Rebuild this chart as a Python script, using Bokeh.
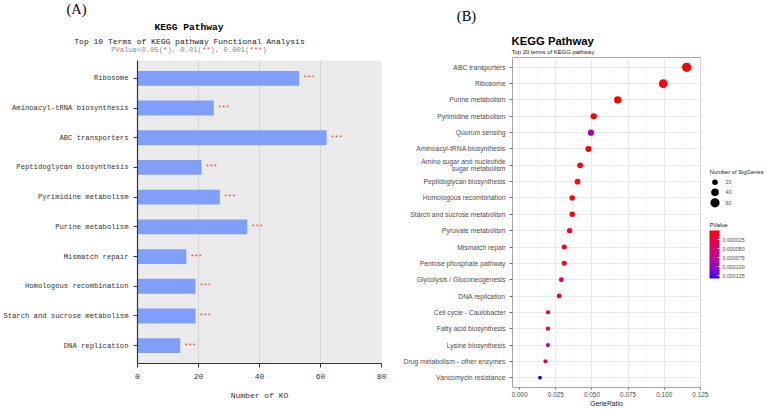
import math

from bokeh.core.properties import value
from bokeh.embed import file_html
from bokeh.layouts import column, row
from bokeh.models import (AllLabels, ColorBar, ColumnDataSource, CustomJSTickFormatter,
                          FixedTicker, LinearColorMapper, NumeralTickFormatter, Range1d,
                          SingleIntervalTicker)
from bokeh.plotting import figure
from bokeh.resources import INLINE

# ---------------- Panel A: top 10 KEGG terms (number of KO) ----------------
kegg10_terms = [
    "Ribosome", "Aminoacyl-tRNA biosynthesis", "ABC transporters",
    "Peptidoglycan biosynthesis", "Pyrimidine metabolism", "Purine metabolism",
    "Mismatch repair", "Homologous recombination", "Starch and sucrose metabolism",
    "DNA replication",
]
kegg10_ko = [53, 25, 62, 21, 27, 36, 16, 19, 19, 14]
kegg10_stars = ["***", "***", "***", "***", "***", "***", "***", "***", "***", "***"]
ko_ticks = [0, 20, 40, 60, 80]

# ---------------- Panel B: top 20 KEGG terms (dot plot) ----------------
kegg20_terms = [
    "ABC transporters", "Ribosome", "Purine metabolism", "Pyrimidine metabolism",
    "Quorum sensing", "Aminoacyl-tRNA biosynthesis",
    "Amino sugar and nucleotide\nsugar metabolism", "Peptidoglycan biosynthesis",
    "Homologous recombination", "Starch and sucrose metabolism", "Pyruvate metabolism",
    "Mismatch repair", "Pentose phosphate pathway", "Glycolysis / Gluconeogenesis",
    "DNA replication", "Cell cycle - Caulobacter", "Fatty acid biosynthesis",
    "Lysine biosynthesis", "Drug metabolism - other enzymes", "Vancomycin resistance",
]
kegg20_ratio = [0.1155, 0.0993, 0.0678, 0.0512, 0.0493, 0.0475, 0.0418, 0.0400, 0.0363, 0.0363,
                0.0345, 0.0308, 0.0308, 0.0288, 0.0272, 0.0195, 0.0195, 0.0195, 0.0178, 0.0140]
kegg20_genes = [62, 53, 36, 27, 26, 25, 22, 21, 19, 19, 18, 16, 16, 15, 14, 10, 10, 10, 9, 7]
kegg20_pvalue = [1.2e-14, 3.0e-16, 2.4e-09, 5.1e-07, 9.0e-05, 8.6e-07, 3.2e-06, 1.9e-06,
                 4.1e-06, 4.1e-06, 6.0e-06, 4.5e-06, 6.5e-06, 5.4e-05, 7.0e-06, 1.2e-05,
                 1.1e-05, 6.1e-05, 2.6e-05, 1.33e-04]
size_breaks = [20, 40, 60]
pvalue_breaks = [0.000025, 0.00005, 0.000075, 0.0001, 0.000125]

MONO = "Liberation Mono"
SANS = "Liberation Sans"
SERIF = "Liberation Serif"


# ---------------- colour helpers: red -> blue gradient interpolated in CIE Lab ----------------
def _to_lin(c):
    return c / 12.92 if c <= 0.04045 else ((c + 0.055) / 1.055) ** 2.4


def _from_lin(c):
    c = 12.92 * c if c <= 0.0031308 else 1.055 * c ** (1 / 2.4) - 0.055
    return min(1.0, max(0.0, c))


_WHITE = (0.95047, 1.0, 1.08883)
_D = 6 / 29


def _f(t):
    return t ** (1 / 3) if t > _D ** 3 else t / (3 * _D ** 2) + 4 / 29


def _finv(t):
    return t ** 3 if t > _D else 3 * _D ** 2 * (t - 4 / 29)


def hex_to_lab(h):
    r, g, b = (_to_lin(int(h[i:i + 2], 16) / 255) for i in (1, 3, 5))
    x = 0.4124564 * r + 0.3575761 * g + 0.1804375 * b
    y = 0.2126729 * r + 0.7151522 * g + 0.0721750 * b
    z = 0.0193339 * r + 0.1191920 * g + 0.9503041 * b
    fx, fy, fz = _f(x / _WHITE[0]), _f(y / _WHITE[1]), _f(z / _WHITE[2])
    return 116 * fy - 16, 500 * (fx - fy), 200 * (fy - fz)


def lab_to_hex(lab):
    L, a, b = lab
    fy = (L + 16) / 116
    x = _WHITE[0] * _finv(fy + a / 500)
    y = _WHITE[1] * _finv(fy)
    z = _WHITE[2] * _finv(fy - b / 200)
    r = 3.2404542 * x - 1.5371385 * y - 0.4985314 * z
    g = -0.9692660 * x + 1.8760108 * y + 0.0415560 * z
    bl = 0.0556434 * x - 0.2040259 * y + 1.0572252 * z
    return "#%02x%02x%02x" % tuple(round(_from_lin(c) * 255) for c in (r, g, bl))


def lab_ramp(c0, c1, n=256):
    l0, l1 = hex_to_lab(c0), hex_to_lab(c1)
    return [lab_to_hex(tuple(p + (q - p) * i / (n - 1) for p, q in zip(l0, l1))) for i in range(n)]


def blank_canvas(width, height):
    """A figure whose frame is the whole canvas, addressed in pixels (y grows downward)."""
    f = figure(width=width, height=height, x_range=Range1d(0, width), y_range=Range1d(height, 0),
               output_backend="svg", toolbar_location=None, min_border=0,
               x_axis_location=None, y_axis_location=None, frame_align=False)
    f.outline_line_color = None
    f.grid.visible = False
    f.background_fill_color = "white"
    f.border_fill_color = "white"
    return f


def put_text(f, x, y, text, font, size, color="black", style="normal", align="left"):
    f.text(x=[x], y=[y], text=[text], text_font=value(font), text_font_size=size,
           text_color=color, text_font_style=style, text_align=align, text_baseline="middle")


# =========================== Panel A ===========================
A_W = 400
A_HEAD = 60
A_H = 409 - A_HEAD
A_L, A_R, A_B = 137, 19, 46
n10 = len(kegg10_terms)

head_a = blank_canvas(A_W, A_HEAD)
put_text(head_a, 76, 8.5, "(A)", SERIF, "14.5px", align="center")
put_text(head_a, 188.5, 27.3, "KEGG Pathway", MONO, "9.6px", style="bold", align="center")
put_text(head_a, 189, 40.7, "Top 10 Terms of KEGG pathway Functional Analysis", MONO, "8px",
         color="#1a1a1a", align="center")

# significance legend line, with red asterisks
sig_parts = ["PValue<0.05(", "*", "), 0.01(", "**", "), 0.001(", "***", ")"]
sig_colors = ["#8a8a8a", "#f03c3c", "#8a8a8a", "#f03c3c", "#8a8a8a", "#f03c3c", "#8a8a8a"]
sig_size = 7.2
char_w = 0.6 * sig_size
total_chars = sum(len(t) for t in sig_parts)
sig_x, cursor = [], 188.5 - total_chars * char_w / 2
for t in sig_parts:
    sig_x.append(cursor)
    cursor += len(t) * char_w
head_a.text(x=sig_x, y=[49.5] * len(sig_parts), text=sig_parts, text_color=sig_colors,
            text_font=value(MONO), text_font_size=f"{sig_size}px",
            text_align="left", text_baseline="middle")

pa = figure(width=A_W, height=A_H, x_range=Range1d(0, 80), y_range=Range1d(0.4, n10 + 0.6),
            output_backend="svg", toolbar_location=None, frame_align=False,
            min_border_left=A_L, min_border_right=A_R, min_border_top=0, min_border_bottom=A_B)
pa.background_fill_color = "#ebebeb"
pa.border_fill_color = "white"
pa.outline_line_color = None

ys_a = [n10 - i for i in range(n10)]
src_a = ColumnDataSource(dict(term=kegg10_terms, ko=kegg10_ko, y=ys_a, star=kegg10_stars))
pa.hbar(y="y", left=0, right="ko", height=0.5, source=src_a,
        fill_color="#809ffa", line_color=None)
pa.text(x="ko", y="y", text="star", source=src_a, x_offset=4,
        text_font=value(MONO), text_font_size="6.7px", text_color="#f03c3c",
        text_baseline="middle", text_align="left")

pa.xaxis.ticker = FixedTicker(ticks=ko_ticks)
pa.xgrid.ticker = FixedTicker(ticks=ko_ticks)
pa.xgrid.grid_line_color = "#d4d4d4"
pa.xgrid.grid_line_width = 1
pa.ygrid.visible = False
pa.yaxis.ticker = FixedTicker(ticks=ys_a)
pa.yaxis.major_label_overrides = {y: t for y, t in zip(ys_a, kegg10_terms)}

for ax in (pa.xaxis[0], pa.yaxis[0]):
    ax.axis_line_color = "#333333"
    ax.axis_line_width = 1.2
    ax.major_tick_line_color = "#333333"
    ax.major_tick_in = 0
    ax.major_tick_out = 4
    ax.minor_tick_line_color = None
    ax.major_label_text_font = MONO
    ax.major_label_text_color = "#333333"

pa.yaxis.major_label_text_font_size = "7.2px"
pa.yaxis.major_label_standoff = 5
pa.xaxis.major_label_text_font_size = "8px"
pa.xaxis.major_label_standoff = 6
pa.xaxis.axis_label = "Number of KO"
pa.xaxis.axis_label_text_font = MONO
pa.xaxis.axis_label_text_font_size = "8px"
pa.xaxis.axis_label_text_font_style = "normal"
pa.xaxis.axis_label_text_color = "#333333"
pa.xaxis.axis_label_standoff = 9

# =========================== Panel B ===========================
B_W = 309
B_HEAD = 57
B_H = 409 - B_HEAD
B_L, B_R, B_B = 110, 9, 20
n20 = len(kegg20_terms)

head_b = blank_canvas(B_W, B_HEAD)
put_text(head_b, 66, 15.3, "(B)", SERIF, "14.5px", align="center")
put_text(head_b, 111, 40, "KEGG Pathway", SANS, "11.3px", style="bold")
put_text(head_b, 111, 51.5, "Top 20 terms of KEGG pathway", SANS, "5.9px", color="#1a1a1a")

pb = figure(width=B_W, height=B_H, x_range=Range1d(-0.005, 0.1251),
            y_range=Range1d(0.4, n20 + 0.6),
            output_backend="svg", toolbar_location=None, frame_align=False,
            min_border_left=B_L, min_border_right=B_R, min_border_top=0, min_border_bottom=B_B)
pb.background_fill_color = "white"
pb.border_fill_color = "white"
pb.outline_line_color = "#a6a6a6"
pb.outline_line_width = 1

# size scale: dot area linear in gene count
g_lo, g_hi = min(kegg20_genes), max(kegg20_genes)
D_LO, D_HI = 3.7, 9.3


def dot_diameter(n):
    t = (n - g_lo) / (g_hi - g_lo)
    return math.sqrt(D_LO ** 2 + t * (D_HI ** 2 - D_LO ** 2))


red_to_blue = lab_ramp("#ff0000", "#0000ff")
p_lo, p_hi = min(kegg20_pvalue), max(kegg20_pvalue)
point_mapper = LinearColorMapper(palette=red_to_blue, low=p_lo, high=p_hi)

ys_b = [n20 - i for i in range(n20)]
src_b = ColumnDataSource(dict(term=kegg20_terms, ratio=kegg20_ratio, genes=kegg20_genes,
                              pvalue=kegg20_pvalue, y=ys_b,
                              d=[dot_diameter(n) for n in kegg20_genes]))
pb.scatter(x="ratio", y="y", size="d", source=src_b, line_color=None,
           fill_color={"field": "pvalue", "transform": point_mapper})

pb.xaxis.ticker = SingleIntervalTicker(interval=0.025, num_minor_ticks=2)
pb.xaxis.formatter = NumeralTickFormatter(format="0.000")
pb.xgrid.ticker = SingleIntervalTicker(interval=0.025, num_minor_ticks=2)
pb.xgrid.grid_line_color = "#ebebeb"
pb.xgrid.grid_line_width = 1
pb.xgrid.minor_grid_line_color = "#f4f4f4"
pb.xgrid.minor_grid_line_width = 0.6
pb.yaxis.ticker = FixedTicker(ticks=ys_b)
pb.ygrid.ticker = FixedTicker(ticks=ys_b)
pb.ygrid.grid_line_color = "#ebebeb"
pb.ygrid.grid_line_width = 1
pb.yaxis.major_label_overrides = {y: t for y, t in zip(ys_b, kegg20_terms)}

for ax in (pb.xaxis[0], pb.yaxis[0]):
    ax.axis_line_color = None
    ax.major_tick_line_color = "#4d4d4d"
    ax.major_tick_line_width = 0.8
    ax.major_tick_in = 0
    ax.minor_tick_line_color = None
    ax.major_label_text_font = SANS
    ax.major_label_text_color = "#4d4d4d"

pb.yaxis.major_tick_out = 3
pb.yaxis.major_label_text_font_size = "6.8px"
pb.yaxis.major_label_text_line_height = 1.0
pb.yaxis.major_label_standoff = 4
pb.xaxis.major_tick_out = 2
pb.xaxis.major_label_text_font_size = "6.4px"
pb.xaxis.major_label_standoff = 0
pb.xaxis.axis_label = "GeneRatio"
pb.xaxis.axis_label_text_font = SANS
pb.xaxis.axis_label_text_font_size = "6.8px"
pb.xaxis.axis_label_text_font_style = "normal"
pb.xaxis.axis_label_text_color = "#1a1a1a"
pb.xaxis.axis_label_standoff = 0

# =========================== Legends (size + colour) ===========================
L_W, L_H = 58, 409
pl = blank_canvas(L_W, L_H)
put_text(pl, 0, 171.7, "Number of SigGenes", SANS, "5.8px", color="#1a1a1a")
src_size = ColumnDataSource(dict(n=size_breaks, lab=[str(v) for v in size_breaks],
                                 y=[181.7, 191.7, 202.3],
                                 d=[dot_diameter(v) for v in size_breaks]))
pl.scatter(x=5.5, y="y", size="d", source=src_size, fill_color="black", line_color=None)
pl.text(x=16, y="y", text="lab", source=src_size, text_font=value(SANS), text_font_size="5.3px",
        text_color="#4d4d4d", text_baseline="middle", text_align="left")
put_text(pl, 0, 224, "PValue", SANS, "5.8px", color="#1a1a1a")

# colour bar runs from small p (top, red) to large p (bottom, blue)
bar_mapper = LinearColorMapper(palette=list(reversed(red_to_blue)), low=-p_hi, high=-p_lo)
cbar = ColorBar(color_mapper=bar_mapper, location=(0, L_H - 278), width=10, height=48,
                padding=0, margin=0, title=None,
                ticker=FixedTicker(ticks=[-v for v in pvalue_breaks]),
                formatter=CustomJSTickFormatter(code="return Math.abs(tick).toFixed(6);"),
                major_label_policy=AllLabels(),
                major_label_text_font=SANS, major_label_text_font_size="5.3px",
                major_label_text_color="#4d4d4d", label_standoff=3,
                major_tick_line_color="white", major_tick_in=2, major_tick_out=0,
                minor_tick_line_color=None, bar_line_color=None,
                border_line_color=None, background_fill_color=None)
pl.add_layout(cbar)

layout = row(column(head_a, pa), column(head_b, pb), pl)
open("out.html", "w").write(file_html(layout, INLINE))
